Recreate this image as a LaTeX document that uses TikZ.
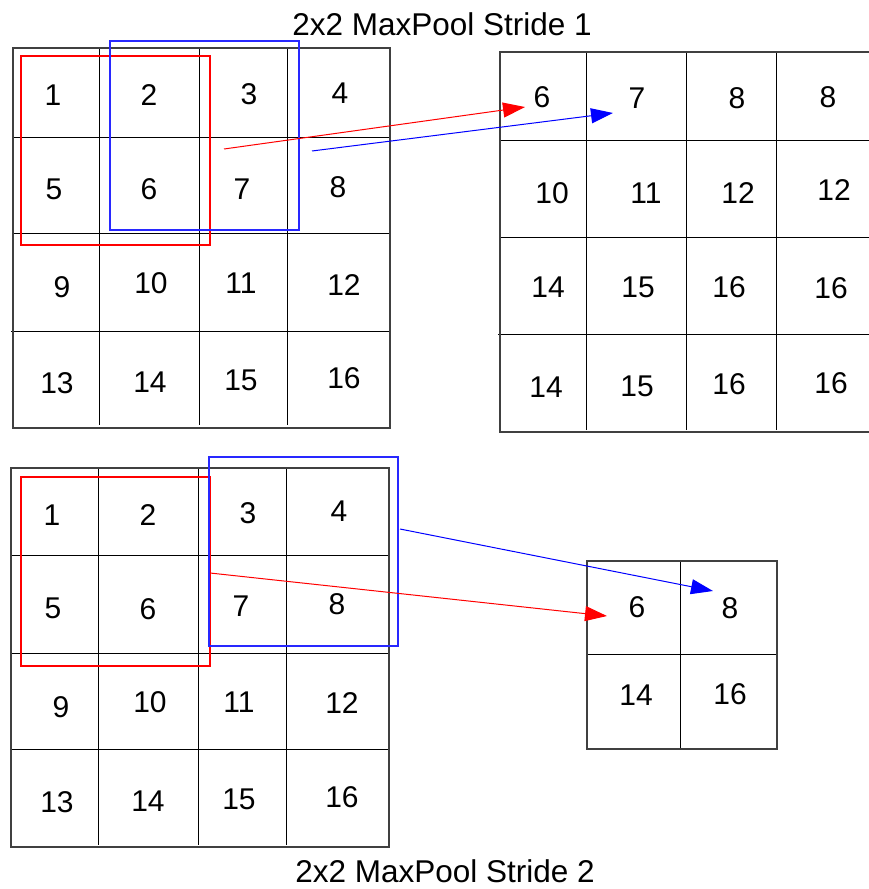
\documentclass[tikz,border=0pt]{standalone}
\usepackage{fontspec}
\setmainfont{Liberation Sans}
\usetikzlibrary{arrows.meta}
\tikzset{
  num/.style={inner sep=0pt, font=\fontsize{30}{30}\selectfont},
  title/.style={inner sep=0pt, font=\fontsize{31.5}{31.5}\selectfont},
  gridline/.style={draw=black, line width=1pt},
  frame/.style={draw=black!75, line width=1.3pt},
  redwin/.style={draw=red, line width=1.4pt},
  bluewin/.style={draw={rgb,255:red,40;green,40;blue,255}, line width=1.4pt},
  redarrow/.style={draw=red, line width=1pt, -{Triangle[length=22pt,width=15pt]}},
  bluearrow/.style={draw=blue, line width=1pt, -{Triangle[length=22pt,width=15pt]}}
}
\begin{document}
\begin{tikzpicture}[x=1pt,y=-1pt]
\useasboundingbox[fill=white] (0,0) rectangle (869,889);

% titles
\node[title] (t1) at (442,24) {2x2 MaxPool Stride 1};
\node[title] (t2) at (445,871) {2x2 MaxPool Stride 2};

% input grid, stride 1
\draw[gridline] (99,48) -- (99,425) (199,48) -- (199,425) (287,48) -- (287,425);
\draw[gridline] (13,137) -- (390,137) (13,233) -- (390,233) (11,331) -- (390,331);
\draw[frame] (13,48) rectangle (390,428);
\foreach \lab/\px/\py [count=\i] in {
  1/53/95, 2/149/95, 3/249/94, 4/340/93,
  5/54/189, 6/149/189, 7/242/189, 8/338/187,
  9/62/287, 10/151/283, 11/241/283, 12/344/285,
  13/57/383, 14/150/382, 15/241/380, 16/344/378}
  \node[num] (a\i) at (\px,\py) {\lab};
\draw[redwin] (21,56) rectangle (210,245);
\draw[bluewin] (110,41) rectangle (299,230);

% output grid, stride 1
\draw[gridline] (586,52) -- (586,430) (686,52) -- (686,430) (776,52) -- (776,430);
\draw[gridline] (500,140) -- (869,140) (500,237) -- (869,237) (498,334) -- (869,334);
\draw[frame] (869,52) -- (500,52) -- (500,432) -- (869,432);
\foreach \lab/\px/\py [count=\i] in {
  6/542/97, 7/637/98, 8/737/98, 8/828/97,
  10/552/193, 11/646/193, 12/738/193, 12/834/190,
  14/548/287, 15/638/287, 16/729/287, 16/831/288,
  14/546/387, 15/637/386, 16/729/384, 16/831/383}
  \node[num] (b\i) at (\px,\py) {\lab};

% input grid, stride 2
\draw[gridline] (98,468) -- (98,845) (198,468) -- (198,845) (286,468) -- (286,845);
\draw[gridline] (11,555) -- (389,555) (11,653) -- (389,653) (11,749) -- (389,749);
\draw[frame] (11,468) rectangle (389,847);
\foreach \lab/\px/\py [count=\i] in {
  1/52/515, 2/148/515, 3/248/513, 4/339/511,
  5/53/608, 6/148/609, 7/241/606, 8/337/604,
  9/61/707, 10/150/702, 11/239/702, 12/342/703,
  13/57/802, 14/148/801, 15/239/799, 16/342/797}
  \node[num] (c\i) at (\px,\py) {\lab};
\draw[redwin] (21,477) rectangle (210,666);
\draw[bluewin] (209,457) rectangle (398,646);

% output grid, stride 2
\draw[gridline] (680,561) -- (680,749) (587,654) -- (777,654);
\draw[frame] (587,561) rectangle (777,749);
\foreach \lab/\px/\py [count=\i] in {
  6/637/607, 8/730/608, 14/636/695, 16/730/694}
  \node[num] (d\i) at (\px,\py) {\lab};

% pooling arrows
\coordinate (rs1) at (224,149);
\coordinate (re1) at (525,107);
\coordinate (bs1) at (312,151);
\coordinate (be1) at (613,113);
\coordinate (rs2) at (210,573);
\coordinate (re2) at (607,616);
\coordinate (bs2) at (400,529);
\coordinate (be2) at (713,591);
\draw[redarrow] (rs1) -- (re1);
\draw[bluearrow] (bs1) -- (be1);
\draw[redarrow] (rs2) -- (re2);
\draw[bluearrow] (bs2) -- (be2);
\end{tikzpicture}
\end{document}
